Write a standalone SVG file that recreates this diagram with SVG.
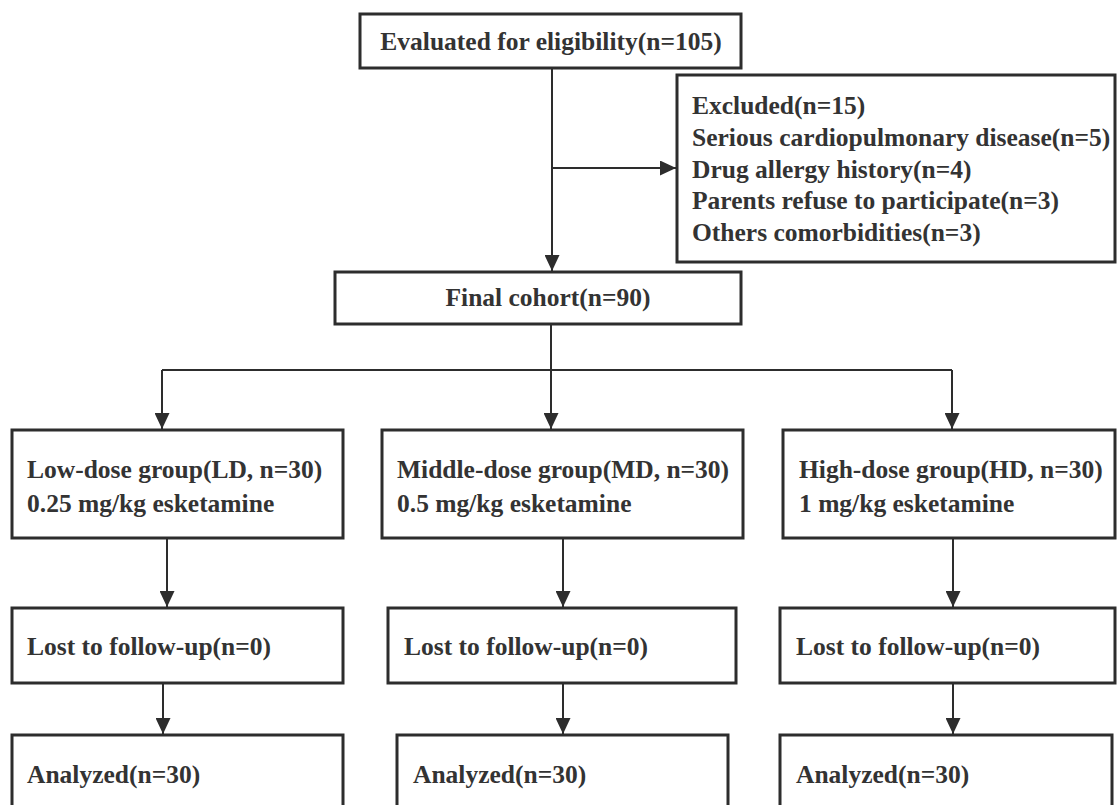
<svg xmlns="http://www.w3.org/2000/svg" width="1117" height="805" viewBox="0 0 1117 805">
<style>
.box{fill:#fff;stroke:#2d2d2d;stroke-width:3}
.t{font-family:"Liberation Serif","Times New Roman",serif;font-weight:bold;font-size:25.5px;fill:#333}
.c{text-anchor:middle}
.ln{fill:none;stroke:#2d2d2d;stroke-width:2}
</style>
<defs>
<marker id="ah" markerUnits="userSpaceOnUse" markerWidth="17" markerHeight="15" refX="16" refY="7.5" orient="auto">
<path d="M0,0 L16,7.5 L0,15 Z" fill="#2d2d2d"/>
</marker>
</defs>
<rect width="1117" height="805" fill="#fff"/>
<g id="connectors">
<path class="ln" d="M552,68 V271" marker-end="url(#ah)"/>
<path class="ln" d="M553,168 H676" marker-end="url(#ah)"/>
<path class="ln" d="M551,324 V370"/>
<path class="ln" d="M162,370 H952"/>
<path class="ln" d="M162,370 V429" marker-end="url(#ah)"/>
<path class="ln" d="M551,370 V429" marker-end="url(#ah)"/>
<path class="ln" d="M952,370 V429" marker-end="url(#ah)"/>
<path class="ln" d="M167,538 V607" marker-end="url(#ah)"/>
<path class="ln" d="M563,538 V607" marker-end="url(#ah)"/>
<path class="ln" d="M953,538 V607" marker-end="url(#ah)"/>
<path class="ln" d="M163,683 V734" marker-end="url(#ah)"/>
<path class="ln" d="M563,683 V734" marker-end="url(#ah)"/>
<path class="ln" d="M953,683 V734" marker-end="url(#ah)"/>
</g>
<g id="eval">
<rect class="box" x="360" y="14" width="381" height="54"/>
<text class="t c" x="551" y="50">Evaluated for eligibility(n=105)</text>
</g>
<g id="excluded">
<rect class="box" x="677" y="75" width="438" height="187"/>
<text class="t" x="692" y="114">Excluded(n=15)</text>
<text class="t" x="692" y="146">Serious cardiopulmonary disease(n=5)</text>
<text class="t" x="692" y="178">Drug allergy history(n=4)</text>
<text class="t" x="692" y="209">Parents refuse to participate(n=3)</text>
<text class="t" x="692" y="241">Others comorbidities(n=3)</text>
</g>
<g id="final">
<rect class="box" x="335" y="272" width="406" height="52"/>
<text class="t c" x="548" y="306">Final cohort(n=90)</text>
</g>
<g id="ld">
<rect class="box" x="12" y="430" width="331" height="108"/>
<text class="t" x="27" y="478">Low-dose group(LD, n=30)</text>
<text class="t" x="27" y="512">0.25 mg/kg esketamine</text>
</g>
<g id="md">
<rect class="box" x="382" y="430" width="361" height="108"/>
<text class="t" x="397" y="478">Middle-dose group(MD, n=30)</text>
<text class="t" x="397" y="512">0.5 mg/kg esketamine</text>
</g>
<g id="hd">
<rect class="box" x="783" y="430" width="332" height="108"/>
<text class="t" x="799" y="478">High-dose group(HD, n=30)</text>
<text class="t" x="799" y="512">1 mg/kg esketamine</text>
</g>
<g id="ld-lost">
<rect class="box" x="12" y="608" width="331" height="75"/>
<text class="t" x="27" y="655">Lost to follow-up(n=0)</text>
</g>
<g id="md-lost">
<rect class="box" x="388" y="608" width="348" height="75"/>
<text class="t" x="404" y="655">Lost to follow-up(n=0)</text>
</g>
<g id="hd-lost">
<rect class="box" x="780" y="608" width="335" height="75"/>
<text class="t" x="796" y="655">Lost to follow-up(n=0)</text>
</g>
<g id="ld-an">
<rect class="box" x="12" y="735" width="331" height="90"/>
<text class="t" x="27" y="783">Analyzed(n=30)</text>
</g>
<g id="md-an">
<rect class="box" x="397" y="735" width="331" height="90"/>
<text class="t" x="413" y="783">Analyzed(n=30)</text>
</g>
<g id="hd-an">
<rect class="box" x="780" y="735" width="332" height="90"/>
<text class="t" x="796" y="783">Analyzed(n=30)</text>
</g>
</svg>
